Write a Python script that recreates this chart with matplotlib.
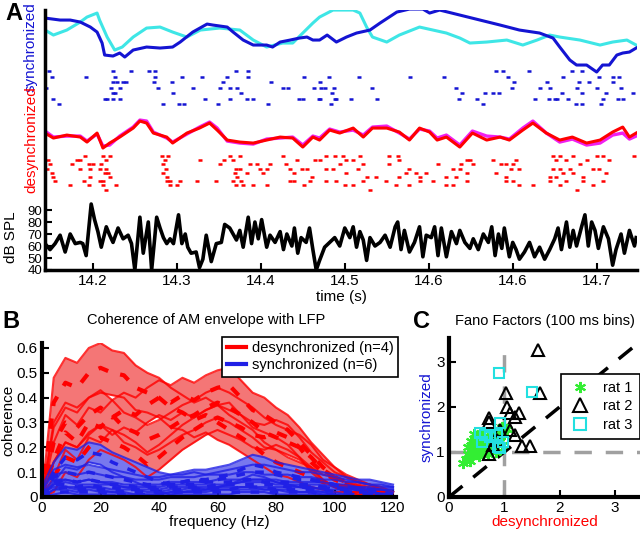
import matplotlib
matplotlib.use("Agg")
import numpy as np
import matplotlib.pyplot as plt
from matplotlib.lines import Line2D

plt.rcParams['font.family'] = ['Liberation Sans', 'DejaVu Sans']

# ---------------- panel A data ----------------
# synchronized LFP traces (arbitrary units)
sync_t1 = [14.143, 14.161, 14.173, 14.185, 14.197, 14.205, 14.211, 14.214, 14.224, 14.232, 14.238, 14.248,
           14.264, 14.280, 14.295, 14.304, 14.319, 14.336, 14.343, 14.360, 14.367, 14.379, 14.391, 14.407,
           14.414, 14.423, 14.435, 14.446, 14.455, 14.462, 14.470, 14.479, 14.490, 14.502, 14.514, 14.530,
           14.542, 14.562, 14.577, 14.593, 14.601, 14.613, 14.637, 14.661, 14.685, 14.708, 14.732, 14.748,
           14.756, 14.768, 14.776, 14.788, 14.800, 14.807, 14.815, 14.824, 14.831, 14.839, 14.847]
sync_v1 = [4.2, 4.0, 4.0, 3.8, 3.3, 2.8, 1.7, 0.5, 0.4, 0.7, 0.3, 1.0,
           1.3, 1.2, 1.3, 1.8, 2.8, 3.6, 3.5, 3.3, 2.8, 2.0, 1.5, 1.5,
           1.3, 1.8, 2.0, 2.2, 2.3, 2.0, 2.0, 2.5, 1.8, 2.3, 2.7, 3.0,
           3.7, 4.8, 5.1, 5.1, 4.7, 5.0, 4.5, 4.0, 3.5, 3.0, 2.7, 2.2,
           1.3, 0.0, -0.5, -0.5, -1.2, -0.5, -0.5, 0.5, 0.7, 0.8, 1.2]
sync_t2 = [14.143, 14.153, 14.169, 14.185, 14.193, 14.205, 14.208, 14.217, 14.226, 14.235, 14.248, 14.264,
           14.280, 14.295, 14.312, 14.328, 14.351, 14.375, 14.391, 14.407, 14.426, 14.438, 14.450, 14.462,
           14.470, 14.486, 14.510, 14.518, 14.526, 14.533, 14.550, 14.565, 14.589, 14.605, 14.621, 14.637,
           14.649, 14.669, 14.693, 14.712, 14.729, 14.744, 14.756, 14.780, 14.804, 14.819, 14.836, 14.847]
sync_v2 = [3.0, 2.5, 3.0, 3.8, 4.3, 4.7, 4.0, 2.3, 1.0, 1.3, 2.3, 3.2,
           3.3, 2.8, 2.3, 3.0, 3.2, 3.0, 2.0, 1.3, 1.7, 1.7, 2.7, 3.7,
           4.3, 5.0, 5.0, 4.7, 3.3, 2.3, 1.8, 2.5, 3.3, 3.0, 2.7, 2.2,
           1.7, 1.8, 2.0, 1.5, 2.0, 2.5, 2.3, 2.0, 1.5, 1.8, 2.0, 1.5]

# desynchronized LFP traces (arbitrary units)
desync_t = [14.143, 14.153, 14.169, 14.185, 14.193, 14.205, 14.212, 14.220, 14.232, 14.248, 14.256, 14.264,
            14.272, 14.288, 14.295, 14.312, 14.327, 14.339, 14.348, 14.360, 14.375, 14.391, 14.407, 14.423,
            14.438, 14.450, 14.462, 14.470, 14.482, 14.494, 14.510, 14.522, 14.533, 14.550, 14.565, 14.577,
            14.589, 14.601, 14.610, 14.621, 14.637, 14.652, 14.669, 14.685, 14.696, 14.712, 14.724, 14.740,
            14.756, 14.771, 14.788, 14.804, 14.819, 14.831, 14.839, 14.847]
desync_v1 = [0.7, 0.2, 0.5, 0.3, -0.2, 0.7, -0.8, -0.3, 0.3, 1.2, 1.9, 1.7,
             0.7, 0.3, -0.3, 0.7, 1.2, 1.7, 1.0, 0.0, -0.2, -0.3, 0.0, 0.3,
             0.2, -0.7, 0.3, 0.0, 1.0, 0.7, 1.2, 0.3, 1.2, 1.2, 0.8, 0.0,
             1.2, 0.8, 0.0, 0.3, -0.7, 0.7, 0.0, 0.3, 0.0, 1.0, 1.7, 0.7,
             0.0, 0.3, -0.3, 0.0, 0.8, 1.3, 0.3, 0.7]
desync_v2 = [0.9, 0.3, 0.4, 0.4, -0.1, 0.6, -0.6, -0.5, 0.4, 1.3, 2.0, 1.9,
             0.8, 0.2, -0.2, 0.6, 1.3, 1.8, 1.2, -0.1, -0.3, -0.4, 0.1, 0.2,
             0.3, -0.5, 0.4, 0.2, 1.1, 0.8, 1.0, 0.5, 1.3, 1.4, 0.7, 0.1,
             1.1, 0.9, 0.2, 0.5, -0.5, 0.9, 0.4, 0.3, 0.1, 1.2, 1.9, 0.7,
             -0.2, 0.1, -0.5, -0.3, 0.5, 0.7, 0.1, 0.4]

# spike rasters: time (s) and trial row
sync_spk_t = [14.148, 14.151, 14.144, 14.153, 14.160, 14.192, 14.224, 14.226, 14.229, 14.224, 14.236, 14.239,
              14.222, 14.226, 14.224, 14.232, 14.217, 14.214, 14.224, 14.232, 14.246, 14.267, 14.274, 14.274,
              14.273, 14.278, 14.294, 14.295, 14.284, 14.302, 14.309, 14.306, 14.319, 14.330, 14.360, 14.355,
              14.371, 14.385, 14.385, 14.363, 14.351, 14.372, 14.377, 14.363, 14.349, 14.334, 14.383, 14.391,
              14.412, 14.427, 14.432, 14.451, 14.445, 14.450, 14.463, 14.409, 14.469,
              14.470, 14.481, 14.472, 14.477, 14.487, 14.470, 14.485, 14.489, 14.488, 14.484, 14.507, 14.517,
              14.532, 14.538, 14.578, 14.618, 14.633, 14.640, 14.636, 14.657, 14.667, 14.665, 14.677, 14.684,
              14.680, 14.688, 14.694, 14.701, 14.699, 14.719, 14.732, 14.744, 14.741, 14.726, 14.743, 14.750,
              14.753, 14.760, 14.766, 14.770, 14.759, 14.776, 14.779, 14.782, 14.791, 14.782, 14.775, 14.782,
              14.803, 14.800, 14.811, 14.807, 14.805, 14.819, 14.820, 14.827, 14.829, 14.831, 14.843, 14.825]
sync_spk_row = [0, 1, 3, 5, 6, 1, 0, 1, 2, 2, 2, 2,
                3, 4, 4, 3, 5, 5, 5, 5, 0, 0, 0, 1,
                2, 3, 2, 4, 6, 6, 6, 1, 3, 1, 1, 2,
                0, 0, 1, 3, 3, 3, 4, 5, 6, 5, 5, 5,
                2, 3, 3, 1, 5, 5, 3, 6, 5,
                2, 1, 3, 3, 3, 5, 4, 5, 5, 6, 5, 1,
                3, 5, 1, 1, 3, 4, 5, 5, 4, 6, 4, 4,
                0, 0, 1, 2, 3, 0, 3, 3, 2, 5, 5, 5,
                5, 1, 5, 0, 4, 3, 2, 0, 2, 4, 6, 6,
                1, 3, 4, 5, 6, 2, 1, 1, 3, 5, 4, 5]

desync_spk_t = [14.147, 14.149, 14.145, 14.151, 14.153, 14.175, 14.181, 14.185, 14.191, 14.185, 14.195, 14.196,
                14.200, 14.197, 14.209, 14.212, 14.216, 14.220, 14.210, 14.216, 14.218, 14.214, 14.220, 14.212,
                14.282, 14.286, 14.290, 14.283, 14.287, 14.284, 14.288, 14.292, 14.328, 14.351, 14.356, 14.363,
                14.367, 14.375, 14.371, 14.375, 14.369, 14.372, 14.377, 14.383, 14.387, 14.395, 14.399, 14.403,
                14.407, 14.411, 14.427, 14.430, 14.435, 14.439, 14.443, 14.449, 14.455, 14.461, 14.465,
                14.470, 14.478, 14.488, 14.498, 14.494, 14.502, 14.510, 14.518, 14.516, 14.522, 14.526, 14.502,
                14.486, 14.478, 14.537, 14.553, 14.563, 14.553, 14.565, 14.577, 14.573, 14.585, 14.589, 14.565,
                14.597, 14.611, 14.633, 14.639, 14.645, 14.649, 14.653, 14.637, 14.645, 14.629, 14.621, 14.676,
                14.686, 14.692, 14.700, 14.704, 14.708, 14.698, 14.680, 14.692, 14.748, 14.752, 14.756, 14.764,
                14.772, 14.780, 14.788, 14.800, 14.807, 14.796, 14.803, 14.811, 14.748, 14.756, 14.744, 14.752,
                14.760, 14.772, 14.768, 14.784, 14.845, 14.815,
                14.155, 14.173, 14.189, 14.195, 14.209, 14.212, 14.216, 14.228, 14.288, 14.292, 14.300, 14.304,
                14.324, 14.347, 14.367, 14.371, 14.379, 14.391, 14.407, 14.435, 14.439, 14.451, 14.459,
                14.478, 14.490, 14.500, 14.510, 14.522, 14.530, 14.549, 14.561, 14.577, 14.589, 14.605, 14.621,
                14.629, 14.645, 14.692, 14.700, 14.708, 14.724, 14.744, 14.756, 14.764, 14.776, 14.784, 14.796,
                14.807]
desync_spk_row = [1, 2, 3, 4, 5, 2, 1, 1, 0, 3, 2, 3,
                  2, 5, 3, 0, 1, 0, 2, 3, 4, 4, 5, 6,
                  0, 1, 0, 2, 3, 4, 5, 6, 1, 2, 1, 0,
                  1, 0, 3, 3, 4, 5, 6, 4, 2, 2, 3, 4,
                  3, 2, 0, 2, 3, 4, 1, 3, 3, 5, 1,
                  1, 0, 0, 0, 2, 1, 1, 0, 3, 2, 5, 4,
                  3, 3, 5, 0, 0, 2, 1, 3, 4, 4, 5, 5,
                  4, 2, 5, 2, 1, 1, 2, 3, 4, 3, 5, 1,
                  2, 2, 2, 1, 3, 3, 4, 5, 0, 1, 0, 1,
                  0, 2, 1, 0, 0, 3, 3, 4, 3, 3, 5, 5,
                  4, 4, 3, 5, 0, 1,
                  6, 7, 6, 7, 6, 7, 8, 7, 6, 7, 7, 6,
                  6, 6, 6, 7, 7, 7, 7, 6, 6, 7, 6,
                  6, 6, 7, 7, 6, 8, 6, 7, 7, 6, 6, 7,
                  7, 6, 6, 6, 7, 7, 6, 7, 6, 8, 6, 7,
                  6]

# sound level (dB SPL)
spl_t = [14.143, 14.149, 14.155, 14.161, 14.167, 14.173, 14.179, 14.185, 14.188, 14.192, 14.198, 14.202,
         14.206, 14.210, 14.216, 14.220, 14.224, 14.230, 14.236, 14.242, 14.246, 14.250, 14.256, 14.260,
         14.266, 14.270, 14.276, 14.280, 14.284, 14.288, 14.292, 14.296, 14.302, 14.306, 14.310, 14.313,
         14.317, 14.323, 14.327, 14.331, 14.335, 14.341, 14.347, 14.353, 14.357, 14.363, 14.367, 14.371,
         14.375, 14.379, 14.385, 14.389, 14.393, 14.397, 14.401, 14.407, 14.411, 14.417, 14.423, 14.427,
         14.431, 14.437, 14.440, 14.444, 14.448, 14.454, 14.458, 14.462, 14.466, 14.470,
         14.476, 14.482, 14.488, 14.494, 14.500, 14.506, 14.510, 14.514, 14.518, 14.522, 14.526, 14.530,
         14.536, 14.542, 14.548, 14.554, 14.560, 14.563, 14.567, 14.571, 14.577, 14.583, 14.589, 14.593,
         14.597, 14.603, 14.607, 14.611, 14.615, 14.621, 14.627, 14.633, 14.637, 14.643, 14.649, 14.653,
         14.659, 14.665, 14.671, 14.675, 14.679, 14.683, 14.687, 14.690, 14.696, 14.700, 14.704, 14.708,
         14.714, 14.720, 14.726, 14.732, 14.738, 14.744, 14.750, 14.754, 14.758, 14.764, 14.768, 14.772,
         14.776, 14.782, 14.786, 14.790, 14.794, 14.798, 14.802, 14.808, 14.814, 14.819, 14.823, 14.829,
         14.833, 14.839, 14.845, 14.847]
spl_db = [62, 57, 62, 69, 55, 70, 62, 63, 62, 52, 95, 82,
          72, 59, 76, 69, 63, 75, 66, 69, 62, 40, 84, 54,
          80, 40, 84, 75, 67, 62, 66, 62, 86, 62, 70, 59,
          54, 55, 42, 49, 69, 47, 62, 63, 78, 75, 70, 65,
          73, 59, 84, 62, 80, 66, 82, 59, 69, 63, 72, 57,
          70, 60, 75, 54, 67, 63, 75, 57, 40, 48,
          59, 63, 67, 60, 75, 67, 76, 59, 72, 65, 48, 67,
          60, 63, 69, 59, 76, 80, 57, 73, 55, 63, 76, 51,
          69, 67, 76, 52, 75, 51, 72, 62, 73, 63, 58, 66,
          57, 70, 63, 76, 52, 70, 58, 75, 51, 63, 57, 49,
          55, 63, 51, 59, 49, 57, 66, 75, 57, 80, 59, 73,
          60, 76, 86, 60, 80, 73, 58, 76, 66, 44, 57, 70,
          54, 73, 60, 67]

time_ticks = [14.2, 14.3, 14.4, 14.5, 14.6, 14.7, 14.8]
time_labels = ['14.2', '14.3', '14.4', '14.5', '14.6', '14.6', '14.7']
spl_ticks = [40, 50, 60, 70, 80, 90]

# ---------------- panel B data ----------------
freq = [0, 4, 8, 12, 16, 20, 24, 28, 32, 36, 40, 44, 48, 52, 56, 60, 64, 68, 72, 76, 80, 84, 88, 92,
        96, 100, 104, 108, 112, 116, 120]
desync_coh = [
    [0.00, 0.38, 0.46, 0.44, 0.50, 0.52, 0.50, 0.49, 0.44, 0.42, 0.40, 0.36, 0.34, 0.31, 0.33, 0.30,
     0.27, 0.24, 0.21, 0.17, 0.14, 0.12, 0.10, 0.08, 0.06, 0.05, 0.04, 0.03, 0.02, 0.02, 0.01],
    [0.00, 0.22, 0.30, 0.28, 0.33, 0.36, 0.32, 0.35, 0.33, 0.37, 0.40, 0.38, 0.41, 0.39, 0.42, 0.44,
     0.45, 0.40, 0.35, 0.33, 0.30, 0.27, 0.22, 0.17, 0.12, 0.08, 0.06, 0.04, 0.03, 0.02, 0.01],
    [0.00, 0.15, 0.26, 0.22, 0.30, 0.28, 0.33, 0.28, 0.26, 0.23, 0.25, 0.28, 0.31, 0.33, 0.36, 0.38,
     0.36, 0.33, 0.30, 0.26, 0.24, 0.22, 0.20, 0.16, 0.11, 0.08, 0.05, 0.04, 0.03, 0.02, 0.01],
    [0.00, 0.08, 0.16, 0.14, 0.20, 0.24, 0.22, 0.20, 0.17, 0.13, 0.16, 0.20, 0.24, 0.27, 0.30, 0.32,
     0.30, 0.28, 0.25, 0.24, 0.26, 0.24, 0.20, 0.14, 0.10, 0.07, 0.05, 0.04, 0.03, 0.02, 0.01],
]
desync_ci = [
    [0.00, 0.10, 0.10, 0.10, 0.10, 0.10, 0.09, 0.09, 0.09, 0.08, 0.08, 0.08, 0.07, 0.07, 0.07, 0.07,
     0.06, 0.06, 0.06, 0.05, 0.05, 0.04, 0.04, 0.04, 0.03, 0.03, 0.02, 0.02, 0.02, 0.01, 0.01],
    [0.00, 0.08, 0.08, 0.08, 0.07, 0.07, 0.07, 0.07, 0.07, 0.07, 0.07, 0.07, 0.07, 0.07, 0.07, 0.07,
     0.07, 0.07, 0.07, 0.07, 0.06, 0.06, 0.06, 0.05, 0.05, 0.04, 0.03, 0.03, 0.02, 0.02, 0.01],
    [0.00, 0.07, 0.07, 0.07, 0.06, 0.06, 0.06, 0.06, 0.06, 0.06, 0.06, 0.06, 0.06, 0.06, 0.06, 0.06,
     0.06, 0.06, 0.06, 0.06, 0.05, 0.05, 0.05, 0.05, 0.04, 0.04, 0.03, 0.02, 0.02, 0.01, 0.01],
    [0.00, 0.06, 0.06, 0.06, 0.05, 0.05, 0.05, 0.05, 0.05, 0.05, 0.05, 0.05, 0.05, 0.05, 0.05, 0.05,
     0.05, 0.05, 0.05, 0.05, 0.05, 0.05, 0.04, 0.04, 0.04, 0.03, 0.03, 0.02, 0.02, 0.01, 0.01],
]
sync_coh = [
    [0.00, 0.10, 0.16, 0.15, 0.18, 0.17, 0.14, 0.12, 0.10, 0.08, 0.06, 0.05, 0.06, 0.07, 0.07, 0.08,
     0.09, 0.11, 0.13, 0.12, 0.10, 0.09, 0.08, 0.07, 0.06, 0.05, 0.04, 0.03, 0.03, 0.02, 0.01],
    [0.00, 0.08, 0.10, 0.09, 0.10, 0.09, 0.08, 0.07, 0.06, 0.05, 0.05, 0.06, 0.06, 0.07, 0.06, 0.07,
     0.08, 0.09, 0.10, 0.10, 0.09, 0.08, 0.07, 0.07, 0.06, 0.05, 0.04, 0.03, 0.02, 0.02, 0.01],
    [0.00, 0.06, 0.07, 0.06, 0.07, 0.06, 0.05, 0.05, 0.04, 0.04, 0.04, 0.05, 0.05, 0.05, 0.06, 0.06,
     0.06, 0.07, 0.07, 0.06, 0.06, 0.06, 0.05, 0.05, 0.04, 0.04, 0.03, 0.03, 0.02, 0.01, 0.01],
    [0.00, 0.05, 0.05, 0.04, 0.05, 0.04, 0.04, 0.03, 0.03, 0.03, 0.03, 0.04, 0.04, 0.04, 0.04, 0.05,
     0.05, 0.05, 0.05, 0.05, 0.05, 0.04, 0.04, 0.04, 0.04, 0.03, 0.03, 0.02, 0.02, 0.01, 0.01],
    [0.00, 0.03, 0.04, 0.03, 0.03, 0.03, 0.03, 0.02, 0.02, 0.02, 0.02, 0.03, 0.03, 0.03, 0.03, 0.03,
     0.03, 0.04, 0.04, 0.04, 0.03, 0.03, 0.03, 0.03, 0.03, 0.02, 0.02, 0.02, 0.01, 0.01, 0.01],
    [0.00, 0.02, 0.02, 0.02, 0.02, 0.02, 0.01, 0.01, 0.01, 0.01, 0.01, 0.02, 0.02, 0.02, 0.02, 0.02,
     0.02, 0.02, 0.02, 0.02, 0.02, 0.02, 0.02, 0.02, 0.01, 0.01, 0.01, 0.01, 0.01, 0.01, 0.00],
]
sync_ci = [0.04, 0.03, 0.03, 0.02, 0.02, 0.02]

# ---------------- panel C data ----------------
rat1_x = [0.25, 0.30, 0.35, 0.38, 0.40, 0.42, 0.45, 0.48, 0.50, 0.52, 0.55, 0.58, 0.60, 0.62, 0.65, 0.68,
          0.70, 0.72, 0.75, 0.78, 0.80, 0.85, 0.90, 0.95, 1.00, 0.40, 0.45, 0.50, 0.55, 0.60, 0.65, 0.70,
          0.48, 0.58, 0.35, 0.85, 1.05, 0.95]
rat1_y = [0.75, 0.85, 0.95, 0.80, 1.05, 0.90, 1.15, 0.95, 1.35, 1.05, 1.20, 0.98, 1.10, 1.30, 1.00, 1.15,
          1.25, 1.05, 1.35, 1.10, 1.20, 1.45, 1.30, 1.55, 1.40, 1.25, 1.40, 1.10, 0.92, 1.28, 1.18, 0.95,
          1.22, 1.42, 1.10, 1.00, 1.50, 1.15]
rat2_x = [1.03, 1.64, 1.04, 1.10, 1.26, 1.19, 0.72, 0.72, 0.92, 1.10, 1.20, 0.86, 0.79, 1.31, 1.46, 0.72, 1.60]
rat2_y = [2.31, 2.31, 2.00, 1.87, 1.87, 1.78, 1.75, 1.67, 1.49, 1.49, 1.38, 1.27, 1.16, 1.13, 1.13, 0.96, 3.27]
rat3_x = [0.90, 1.50, 0.92, 0.56, 0.65, 0.74, 0.86, 0.97, 0.88, 0.92, 0.59]
rat3_y = [2.76, 2.33, 1.64, 1.42, 1.38, 1.33, 1.38, 1.22, 1.11, 1.09, 1.22]

BLUE = '#1414d2'
CYAN = '#3ee6e6'
RED = '#ff0000'
MAGENTA = '#f020f0'
LBLUE = '#2020e6'

fig = plt.figure(figsize=(6.4, 5.34), dpi=100)

# ================= A =================
axA = fig.add_axes([45 / 640, 1 - 270 / 534, 592 / 640, 260 / 534])
axA.set_xlim(14.143, 14.848)
axA.set_ylim(40, 256.7)

# traces stacked above the dB SPL axis
axA.plot(sync_t2, 215 + 8.33 * np.array(sync_v2), color=CYAN, lw=2.2)
axA.plot(sync_t1, 215 + 8.33 * np.array(sync_v1), color=BLUE, lw=2.2)
axA.plot(sync_spk_t, 205.8 - 4.58 * np.array(sync_spk_row), ls='none', marker='_', ms=3.5, mew=1.8, color=BLUE)
axA.plot(desync_t, 148.3 + 8.33 * np.array(desync_v2), color=MAGENTA, lw=2.4)
axA.plot(desync_t, 148.3 + 8.33 * np.array(desync_v1), color=RED, lw=2.2)
axA.plot(desync_spk_t, 135 - 3.5 * np.array(desync_spk_row), ls='none', marker='_', ms=3.5, mew=1.8, color=RED)
axA.plot(spl_t, spl_db, color='black', lw=2.6, solid_joinstyle='round')

axA.set_yticks(spl_ticks)
axA.set_yticklabels([str(v) for v in spl_ticks])
axA.set_xticks(time_ticks)
axA.set_xticklabels(time_labels)
axA.tick_params(direction='in', length=5, width=1.5, labelsize=11, pad=3)
axA.tick_params(axis='y', pad=2, labelsize=9.5)
for s in ['top', 'right']:
    axA.spines[s].set_visible(False)
axA.spines['left'].set_linewidth(2.5)
axA.spines['bottom'].set_linewidth(2.5)
axA.set_xlabel('time (s)', fontsize=11, labelpad=1)

fig.text(31 / 640, 1 - 47 / 534, 'synchronized', color=BLUE, rotation=90, fontsize=11, ha='center', va='center')
fig.text(31 / 640, 1 - 140 / 534, 'desynchronized', color=RED, rotation=90, fontsize=11, ha='center', va='center')
fig.text(11 / 640, 1 - 237 / 534, 'dB SPL', rotation=90, fontsize=11, ha='center', va='center')
fig.text(14 / 640, 1 - 13 / 534, 'A', fontsize=17, fontweight='bold', ha='center', va='center')

# ================= B =================
axB = fig.add_axes([42 / 640, 1 - 497 / 534, 354 / 640, 154 / 534])
axB.set_xlim(0, 121)
axB.set_ylim(0, 0.62)
f = np.array(freq)
# shaded bands first, then the bounds and means on top
for m, ci in zip(desync_coh, desync_ci):
    m = np.array(m)
    ci = np.array(ci)
    axB.fill_between(f, m - ci, m + ci, color='#f47676', lw=0)
for m, ci in zip(sync_coh, sync_ci):
    m = np.array(m)
    axB.fill_between(f, np.clip(m - ci, 0, None), m + ci, color='#7878ee', lw=0)
for m, ci in zip(desync_coh, desync_ci):
    m = np.array(m)
    ci = np.array(ci)
    axB.plot(f, m - ci, color=RED, lw=1.5, alpha=0.8)
    axB.plot(f, m + ci, color=RED, lw=1.5, alpha=0.8)
    axB.plot(f, m, color=RED, lw=3, dashes=(2.5, 3))
for m, ci in zip(sync_coh, sync_ci):
    m = np.array(m)
    axB.plot(f, np.clip(m - ci, 0, None), color=LBLUE, lw=1.5, alpha=0.8)
    axB.plot(f, m + ci, color=LBLUE, lw=1.5, alpha=0.8)
    axB.plot(f, m, color=LBLUE, lw=2.5, dashes=(2.5, 3))

axB.set_xticks([0, 20, 40, 60, 80, 100, 120])
axB.set_yticks([0, 0.1, 0.2, 0.3, 0.4, 0.5, 0.6])
axB.set_yticklabels(['0', '0.1', '0.2', '0.3', '0.4', '0.5', '0.6'])
axB.tick_params(direction='in', length=5, width=1.5, labelsize=11, pad=3)
for s in ['top', 'right']:
    axB.spines[s].set_visible(False)
axB.spines['left'].set_linewidth(3)
axB.spines['bottom'].set_linewidth(3)
axB.set_xlabel('frequency (Hz)', fontsize=11, labelpad=0)
axB.set_ylabel('coherence', fontsize=11, labelpad=1)
axB.text(0.463, 1.15, 'Coherence of AM envelope with LFP', transform=axB.transAxes,
         fontsize=10.5, ha='center', va='center')
legB = axB.legend([Line2D([], [], color=RED, lw=3), Line2D([], [], color=LBLUE, lw=3)],
                  ['desynchronized (n=4)', 'synchronized (n=6)'],
                  loc='upper right', bbox_to_anchor=(1.005, 1.04), borderaxespad=0, fontsize=10.5,
                  frameon=True, fancybox=False, handlelength=1.3, handletextpad=0.4, borderpad=0.3,
                  labelspacing=0.2, framealpha=1)
legB.get_frame().set_edgecolor('black')
legB.get_frame().set_linewidth(1.2)
fig.text(11 / 640, 1 - 322 / 534, 'B', fontsize=17, fontweight='bold', ha='center', va='center')

# ================= C =================
axC = fig.add_axes([449 / 640, 1 - 497 / 534, 191 / 640, 159 / 534])
axC.set_xlim(0, 3.45)
axC.set_ylim(0, 3.53)
axC.plot([1, 1], [0, 3.3], color='#a0a0a0', lw=2.5, dashes=(5, 4))
axC.plot([0, 3.45], [1, 1], color='#a0a0a0', lw=2.5, dashes=(5, 4))
axC.plot([0, 3.6], [0, 3.6], color='black', lw=2.5, dashes=(5, 4))
axC.plot(rat1_x, rat1_y, ls='none', marker=(6, 2, 0), ms=8, mew=1.5, color='#33ee33')
axC.plot(rat2_x, rat2_y, ls='none', marker='^', ms=9, mfc='none', mec='black', mew=1.5)
axC.plot(rat3_x, rat3_y, ls='none', marker='s', ms=7, mfc='none', mec='#22e0e0', mew=1.5)
axC.set_xticks([0, 1, 2, 3])
axC.set_yticks([0, 1, 2, 3])
axC.tick_params(direction='in', length=5, width=1.5, labelsize=11, pad=3)
for s in ['top', 'right']:
    axC.spines[s].set_visible(False)
axC.spines['left'].set_linewidth(3)
axC.spines['bottom'].set_linewidth(3)
axC.set_xlabel('desynchronized', color=RED, fontsize=11, labelpad=0)
axC.set_ylabel('synchronized', color=BLUE, fontsize=11, labelpad=2)
axC.text(0.5, 1.11, 'Fano Factors (100 ms bins)', transform=axC.transAxes, fontsize=10.5,
         ha='center', va='center')
legC = axC.legend([Line2D([], [], ls='none', marker=(6, 2, 0), ms=8, mew=1.5, color='#33ee33'),
                   Line2D([], [], ls='none', marker='^', ms=10, mfc='none', mec='black', mew=1.5),
                   Line2D([], [], ls='none', marker='s', ms=9, mfc='none', mec='#22e0e0', mew=1.5)],
                  ['rat 1', 'rat 2', 'rat 3'], loc='upper right', bbox_to_anchor=(1.0, 0.775),
                  borderaxespad=0, fontsize=10.5, fancybox=False, handlelength=1.6, handletextpad=0.8,
                  borderpad=0.5, labelspacing=0.3, framealpha=1)
legC.get_frame().set_edgecolor('black')
legC.get_frame().set_linewidth(1.2)
fig.text(422 / 640, 1 - 322 / 534, 'C', fontsize=17, fontweight='bold', ha='center', va='center')

fig.savefig('out.png', dpi=100)
